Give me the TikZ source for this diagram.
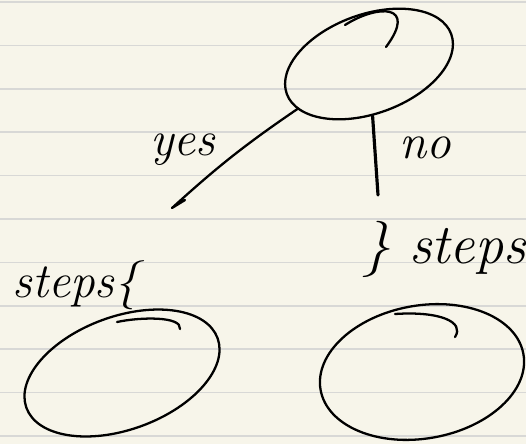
\documentclass[tikz,border=0pt]{standalone}
\usetikzlibrary{shapes.geometric}
\definecolor{paper}{HTML}{F7F5EA}
\definecolor{ruled}{HTML}{D8D8D6}
\begin{document}
\begin{tikzpicture}[x=0.02cm,y=0.02cm,
  pen/.style={line width=1.3pt,line cap=round,line join=round},
  blob/.style={draw,ellipse,pen,inner sep=0pt},
  hand/.style={font=\fontsize{28}{30}\selectfont\itshape,inner sep=0pt}]
\fill[paper] (0,0) rectangle (526,444);
\useasboundingbox (0,0) rectangle (526,444);
\foreach \k in {0,...,10}
  \draw[ruled,line width=1pt] (0,442-43.4*\k) -- (526,442-43.4*\k);
\node[blob,minimum width=3.5cm,minimum height=1.98cm,rotate=20] (top) at (369,380) {};
\node[blob,minimum width=4.07cm,minimum height=2.26cm,rotate=20] (yesbox) at (122,71) {};
\node[blob,minimum width=4.12cm,minimum height=2.66cm,rotate=10] (nobox) at (422,72) {};
\draw[pen] (345,419) .. controls (378,440) and (418,440) .. (386,397);
\draw[pen] (117,122) .. controls (140,127) and (182,128) .. (180,115);
\draw[pen] (395,130) .. controls (440,133) and (465,122) .. (455,107);
\coordinate (yesend) at (172,236);
\coordinate (noend) at (378,249);
\draw[pen] (top) to[bend right=4] (yesend) -- ++(13,8);
\draw[pen,line width=1.8pt] (top) -- (noend);
\node[hand] (yes) at (183,294) {yes};
\node[hand] (no) at (425,296) {no};
\node[hand,anchor=base west] (stepsl) at (12,147) {steps\{};
\node[hand,font=\fontsize{32}{34}\selectfont\itshape,anchor=base west] (stepsr) at (362,181) {\}\,\,steps};
\end{tikzpicture}
\end{document}
